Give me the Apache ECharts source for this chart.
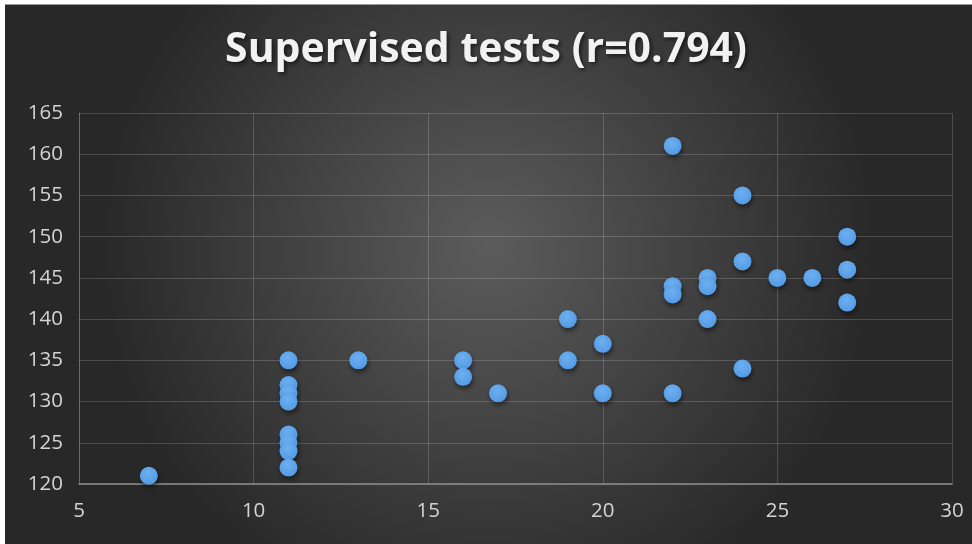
<!DOCTYPE html>
<html><head><meta charset="utf-8">
<script src="https://cdn.jsdelivr.net/npm/echarts@6/dist/echarts.min.js"></script>
<style>html,body{margin:0;padding:0;background:#fff}#c{width:972px;height:544px}</style>
</head><body><div id="c"></div>
<script>
const titleText = "Supervised tests (r=0.794)";
const xValues = [7, 11, 11, 11, 11, 11, 11, 11, 11, 13, 16, 16, 17, 19, 19, 20, 20, 22, 22, 22, 22, 23, 23, 23, 24, 24, 24, 25, 26, 27, 27, 27];
const yValues = [121, 135, 132, 131, 130, 126, 125, 124, 122, 135, 135, 133, 131, 140, 135, 137, 131, 161, 144, 143, 131, 145, 144, 140, 155, 147, 134, 145, 145, 150, 146, 142];
const xTicks = [5, 30, 5];   // min, max, interval
const yTicks = [120, 165, 5];

const chart = echarts.init(document.getElementById('c'), null, {renderer: 'canvas'});
chart.setOption({
  backgroundColor: 'transparent',
  graphic: [{
    type: 'rect', z: -10, silent: true,
    shape: {x: 5, y: 4, width: 967, height: 540},
    style: {fill: new echarts.graphic.RadialGradient(0.5, 0.45, 0.72, [
      {offset: 0, color: '#5c5c5c'},
      {offset: 1, color: '#282828'}
    ])}
  }, {
    type: 'rect', z: -9, silent: true,
    shape: {x: 5, y: 4, width: 967, height: 1},
    style: {fill: '#9a9a9a'}
  }],
  title: {
    text: titleText, left: 'center', top: 25,
    textStyle: {color: '#f2f2f2', fontSize: 41, fontWeight: 'bold', fontFamily: 'Open Sans',
      textShadowColor: 'rgba(0,0,0,0.6)', textShadowBlur: 4, textShadowOffsetX: 2, textShadowOffsetY: 2}
  },
  grid: {left: 79, top: 113, width: 873, height: 371, containLabel: false},
  xAxis: {
    type: 'value', min: xTicks[0], max: xTicks[1], interval: xTicks[2],
    axisLine: {show: true, lineStyle: {color: '#8c8c8c', width: 1.5}},
    axisTick: {show: false},
    axisLabel: {color: '#d4d4d4', fontSize: 20.5, fontFamily: 'Open Sans', margin: 17},
    splitLine: {show: true, lineStyle: {color: 'rgba(255,255,255,0.17)', width: 1}}
  },
  yAxis: {
    type: 'value', min: yTicks[0], max: yTicks[1], interval: yTicks[2],
    axisLine: {show: true, lineStyle: {color: 'rgba(255,255,255,0.17)'}},
    axisTick: {show: false},
    axisLabel: {color: '#d4d4d4', fontSize: 20.5, fontFamily: 'Open Sans', margin: 16},
    splitLine: {show: true, lineStyle: {color: 'rgba(255,255,255,0.17)', width: 1}}
  },
  series: [{
    type: 'scatter',
    data: xValues.map((x, i) => [x, yValues[i]]),
    symbolSize: 18,
    itemStyle: {
      opacity: 1,
      color: new echarts.graphic.RadialGradient(0.45, 0.35, 0.7, [
        {offset: 0, color: '#6db0f2'},
        {offset: 1, color: '#5299e2'}
      ]),
      shadowColor: 'rgba(0,0,0,0.5)', shadowBlur: 5, shadowOffsetX: 1, shadowOffsetY: 3
    }
  }]
});
</script></body></html>
